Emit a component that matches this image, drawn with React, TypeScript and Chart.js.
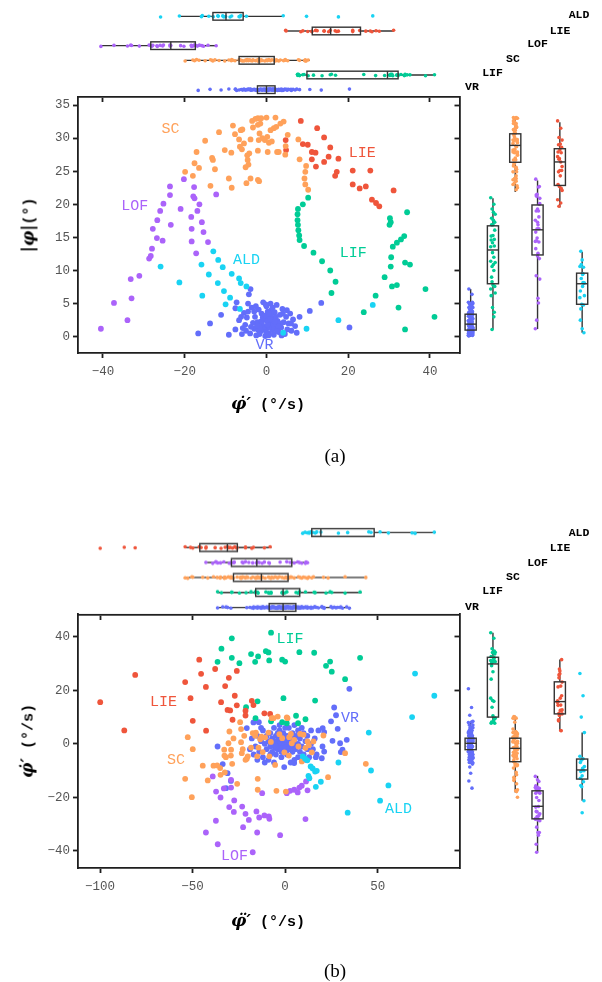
import React, { useEffect, useRef } from 'react';
import { Chart, registerables } from 'chart.js';

Chart.register(...registerables);
Chart.defaults.font.family = "'Liberation Mono', 'DejaVu Sans Mono', monospace";

const GROUPS = ['VR', 'LIF', 'SC', 'LOF', 'LIE', 'ALD'];
const COLORS = ['#636EFA', '#00CC96', '#FFA15A', '#AB63FA', '#EF553B', '#19D3F3'];
const DRAW_ORDER = [5, 2, 4, 3, 1, 0];

// ---------- Panel (a): x = φ̇′ (°/s), y = |φ| (°) ----------
const A_VR = [
  [-16.7, 0.5], [-13.8, 2.0], [-11.1, 3.3], [-9.2, 0.3], [10.6, 3.9], [13.4, 5.1], [20.3, 1.4], [8.1, 3.0],
  [-3.9, 7.2], [-4.3, 6.4], [-4.5, 5.0], [-7.3, 5.2], [-7.6, 4.3], [-6.7, 2.5], [-7.6, 1.1], [-6.0, 0.4],
  [-5.2, 1.8], [-5.5, 3.6], [-4.8, 2.9], [-3.6, 4.4], [-3.0, 1.2], [-2.8, 3.0], [-2.5, 0.2], [-2.2, 2.2],
  [-1.9, 4.1], [-1.5, 0.8], [-1.2, 3.5], [-1.0, 1.6], [-0.8, 5.2], [-0.5, 2.6], [-0.3, 0.1], [0.0, 4.6],
  [0.2, 1.3], [0.4, 3.1], [0.6, 0.5], [0.8, 2.0], [1.0, 5.0], [1.2, 4.0], [1.4, 1.0], [1.6, 2.8],
  [1.8, 0.3], [2.0, 3.7], [2.2, 1.7], [2.5, 4.8], [2.7, 2.4], [3.0, 0.7], [3.3, 3.3], [3.6, 1.4],
  [3.9, 4.2], [4.2, 2.2], [4.5, 0.4], [4.8, 3.0], [5.1, 1.1], [5.4, 2.0], [5.8, 3.5], [6.1, 0.9],
  [6.5, 2.6], [7.0, 1.6], [7.4, 0.6], [-6.2, 3.0], [-5.8, 1.3], [-4.0, 0.5], [-3.3, 2.1], [-2.0, 1.0],
  [-1.3, 2.3], [-0.6, 1.1], [0.1, 2.4], [0.7, 1.5], [1.3, 2.5], [1.9, 1.2], [2.6, 0.9], [3.2, 2.0],
  [-4.5, 3.8], [-3.0, 3.8], [-1.7, 0.4], [0.3, 3.8], [2.3, 3.0], [4.0, 3.5], [5.0, 4.0], [-0.2, 4.9],
  [1.5, 4.4], [-2.6, 4.6], [-1.1, 1.9], [0.5, 0.2], [1.1, 3.3], [2.9, 1.6], [-3.8, 1.5], [-5.0, 0.9],
  [3.7, 0.2], [6.0, 2.0], [-0.9, 2.9], [0.9, 2.7], [-1.6, 1.4], [1.7, 1.9], [-0.4, 3.2], [0.6, 3.5],
  [-2.3, 1.7], [2.1, 2.3], [-0.1, 0.7], [0.3, 1.8],
];
const A_LIF = [
  [10.2, 21.0], [8.9, 20.0], [7.7, 19.3], [7.6, 18.5], [7.6, 17.6], [7.7, 16.9], [7.8, 16.1], [8.0, 15.3],
  [8.1, 14.6], [9.2, 13.7], [11.5, 12.7], [13.6, 11.4], [15.6, 10.0], [16.9, 8.3], [15.9, 6.6],
  [34.4, 18.8], [30.2, 17.9], [30.4, 17.3], [30.1, 16.9], [33.7, 15.2], [32.9, 14.7], [31.9, 14.2],
  [30.9, 13.6], [30.5, 12.0], [30.4, 10.6], [33.9, 11.2], [35.1, 10.9], [28.9, 9.0], [30.7, 7.6],
  [31.9, 7.8], [26.7, 6.2], [23.8, 3.7], [32.3, 4.4], [38.9, 7.2], [41.1, 3.0], [33.9, 1.1],
];
const A_SC = [
  [-19.9, 24.9], [-18.0, 24.3], [-17.6, 26.2], [-17.1, 27.9], [-16.5, 25.5], [-15.0, 29.6], [-13.7, 22.8],
  [-13.3, 27.0], [-13.1, 26.7], [-12.6, 25.3], [-11.6, 30.9], [-10.2, 28.2], [-9.2, 23.9], [-8.6, 27.8],
  [-8.5, 22.5], [-8.2, 31.9], [-7.7, 30.6], [-6.7, 29.8], [-6.3, 31.2], [-5.9, 31.3], [-6.5, 28.7],
  [-6.0, 28.3], [-5.5, 29.2], [-5.1, 25.6], [-4.9, 23.2], [-4.7, 27.4], [-4.6, 26.7], [-4.4, 26.0],
  [-4.2, 27.7], [-3.9, 29.8], [-3.5, 32.6], [-3.3, 31.6], [-3.9, 23.9], [-2.1, 23.7], [-1.8, 23.5],
  [-2.7, 32.9], [-2.1, 33.0], [-2.1, 32.0], [-2.1, 28.1], [-1.9, 29.7], [-1.7, 30.7], [-1.5, 32.2],
  [-1.3, 33.0], [-1.0, 30.0], [-0.4, 29.7], [0.0, 33.1], [0.2, 30.2], [0.6, 29.3], [0.3, 27.9],
  [1.0, 31.2], [1.3, 29.5], [1.8, 31.5], [2.2, 33.1], [2.4, 31.7], [2.6, 27.9], [3.0, 27.9],
  [3.4, 32.2], [4.2, 32.5], [4.6, 27.5], [4.7, 28.8], [5.2, 30.5], [7.8, 29.8], [8.1, 26.8],
  [9.7, 25.8], [9.5, 24.9], [9.3, 23.9], [9.5, 23.0], [10.2, 22.2],
];
const A_LOF = [
  [-40.5, 1.2], [-37.3, 5.1], [-34.0, 2.5], [-33.2, 8.7], [-33.0, 5.8], [-31.1, 9.2], [-28.7, 11.8],
  [-28.3, 12.2], [-28.0, 13.3], [-27.8, 16.3], [-26.8, 14.9], [-26.7, 17.6], [-26.0, 19.0], [-25.4, 14.5],
  [-25.2, 20.1], [-23.4, 16.9], [-23.6, 21.4], [-23.6, 22.7], [-21.0, 19.3], [-20.2, 23.8], [-18.4, 18.1],
  [-18.3, 16.3], [-18.3, 14.4], [-17.7, 22.6], [-17.9, 21.2], [-17.6, 20.9], [-17.2, 12.6], [-16.9, 19.0],
  [-16.4, 20.0], [-15.8, 17.3], [-15.4, 15.8], [-14.3, 14.3], [-12.3, 21.5],
];
const A_LIE = [
  [8.4, 32.6], [12.4, 31.5], [14.1, 30.1], [4.7, 29.7], [8.9, 29.1], [10.1, 29.0], [15.6, 28.6],
  [4.8, 28.2], [11.1, 27.9], [12.0, 27.8], [17.6, 26.9], [15.2, 27.2], [14.1, 26.4], [11.1, 26.8],
  [12.1, 25.7], [16.8, 24.3], [17.2, 24.9], [21.1, 25.1], [25.4, 25.1], [21.1, 23.0], [22.8, 22.4],
  [24.3, 22.7], [25.8, 20.7], [26.8, 20.2], [27.6, 19.7], [31.1, 22.1],
];
const A_ALD = [
  [-25.9, 10.6], [-21.3, 8.2], [-15.9, 10.9], [-15.7, 6.2], [-14.1, 9.4], [-13.0, 12.9], [-11.9, 8.1],
  [-11.8, 11.6], [-10.4, 6.9], [-10.7, 10.5], [-10.0, 4.9], [-8.9, 5.9], [-8.5, 9.5], [-6.7, 8.8],
  [-6.3, 8.1], [-4.9, 7.6], [-6.5, 4.2], [4.1, 0.6], [9.8, 1.2], [17.6, 2.5], [26.0, 4.8],
];
const A_X_TICKS = [-40, -20, 0, 20, 40];
const A_Y_TICKS = [0, 5, 10, 15, 20, 25, 30, 35];
// box stats [low whisker, q1, median, q3, high whisker], GROUPS order
const A_TOP_BOX = [
  [-7.7, -2.2, 0.0, 2.1, 8.0], [7.6, 9.9, 29.6, 32.2, 41.4], [-19.9, -6.7, -1.8, 1.9, 10.6],
  [-40.5, -28.3, -23.4, -17.4, -12.2], [4.8, 11.2, 15.7, 23.0, 31.2], [-21.3, -13.1, -9.9, -5.7, 4.2],
];
const A_RIGHT_BOX = [
  [0.0, 1.0, 1.9, 3.4, 7.2], [1.1, 8.0, 13.1, 16.75, 20.9], [21.85, 26.35, 28.9, 30.65, 33.0],
  [1.15, 12.35, 16.15, 19.9, 23.6], [19.5, 22.85, 26.4, 28.4, 32.4], [0.6, 4.9, 8.0, 9.6, 12.8],
];
const A_LABEL_AT = [[-0.5, -1.3], [21.2, 12.7], [-23.5, 31.4], [-32.2, 19.8], [23.4, 27.7], [-4.9, 11.6]];

// ---------- Panel (b): x = φ̈′ (°/s), y = φ̇′ (°/s) ----------
const B_VR = [
  [34.7, 20.6], [26.5, 13.6], [27.5, 10.7], [24.8, 8.4], [28.4, 5.6], [25.6, 1.1], [33.3, 1.5], [29.7, 0.2],
  [31.0, -2.2], [30.1, -3.1], [20.3, 5.9], [21.1, 4.4], [20.2, -1.0], [21.1, -2.9], [19.8, -5.4], [16.6, -5.0],
  [-36.5, -1.0], [-33.7, -7.6], [-31.1, -11.0], [-29.3, -13.9], [-31.9, -16.6], [-20.7, 5.9], [-17.1, 8.0],
  [-14.2, 8.1], [-0.5, -8.7], [4.9, -7.2],
  [-19, -2], [-18, 2], [-17, -4], [-16, -1], [-15, 3], [-15, -6], [-14, -3], [-13, 1], [-13, 6], [-12, 5],
  [-12, -5], [-11, 0], [-11, -7], [-10, 3], [-10, -2], [-9, -6], [-9, 1], [-8, 4], [-8, -1], [-8, -4],
  [-7, -3], [-7, 2], [-6, 6], [-6, 0], [-6, -7], [-5, -4], [-5, 3], [-4, 1], [-4, -2], [-4, 4], [-3, 5],
  [-3, -1], [-3, 7], [-2, 2], [-2, -5], [-2, -3], [-1, 0], [-1, 4], [-1, -1], [0, -2], [0, 1], [0, 6],
  [1, 3], [1, -4], [1, 0], [2, 0], [2, 6], [2, -2], [3, -1], [3, 2], [3, -7], [4, -3], [4, 4], [4, -1],
  [5, 1], [5, -6], [5, 7], [6, -1], [6, 3], [7, 0], [7, 5], [7, -5], [8, -3], [8, 2], [9, -1], [9, 6],
  [10, 4], [10, -4], [11, 1], [11, -6], [12, -2], [12, 3], [13, -5], [14, 0], [14, 5], [15, -2], [16, 2],
  [17, -4], [18, 5], [-6.5, 1.5], [-5.5, -1.5], [-4.5, 0.5], [-3.5, 2.5], [-2.5, 0.5], [-1.5, 1.5],
  [-0.5, -0.5], [0.5, 2.5], [1.5, 1.5], [2.5, -0.5], [3.5, 0.5], [4.5, 2.0], [-7.5, -0.5], [-2.0, -1.8],
  [0.2, -1.2], [1.8, -1.5], [-4.8, -1.0], [5.5, -2.0],
];
const B_LIF = [
  [-7.6, 41.6], [-28.8, 39.5], [-34.4, 35.6], [-36.5, 30.7], [-28.8, 32.2], [-24.7, 30.2], [-18.4, 33.6],
  [-16.2, 30.7], [-14.6, 32.7], [-10.4, 34.7], [-9.0, 34.2], [-8.6, 31.2], [-1.6, 31.5], [0.0, 30.8],
  [7.7, 34.3], [15.7, 34.1], [22.1, 29.2], [24.3, 30.8], [25.2, 27.0], [32.4, 24.2], [40.5, 32.2],
  [16.2, 16.2], [-0.9, 17.1], [-14.9, 15.9], [-21.1, 13.7], [-16.0, 9.6], [-7.6, 8.4], [-1.6, 8.1],
  [0.9, 7.7], [5.9, 10.5], [7.0, 7.7], [11.0, 9.2],
];
const B_SC = [
  [-52.6, 2.5], [-49.9, -2.0], [-54.0, -13.1], [-50.4, -20.0], [-44.5, -8.2], [-41.8, -13.7], [-38.7, -8.2],
  [-36.7, -8.1], [-35.1, -9.1], [-34.9, -11.6], [-32.9, -2.2], [-32.8, -4.4], [-32.6, -10.7], [-32.0, -5.0],
  [-30.6, 0.2], [-30.1, 4.6], [-29.3, -4.4], [-29.2, -2.2], [-28.6, -7.5], [-27.9, 2.0], [-25.9, -15.0],
  [-24.3, 8.1], [-23.8, 5.5], [-23.8, 0.6], [-23.4, -3.5], [-22.9, -2.0], [-22.1, 3.0], [-21.4, -6.0],
  [-20.7, -5.6], [-20.2, -4.7], [-18.4, -1.4], [-17.5, 4.0], [-16.2, 3.0], [-15.8, 4.2], [-15.1, -4.7],
  [-14.8, -13.1], [-14.8, -17.2], [-14.4, -1.4], [-13.5, 1.7], [-12.8, 2.7], [-12.1, -3.1], [-10.8, 2.4],
  [-9.0, 4.2], [-8.5, -4.7], [-7.7, 0.7], [-7.2, 9.6], [-6.3, 9.6], [-5.4, -7.9], [-4.7, -17.6],
  [-4.0, 10.2], [-3.1, 3.6], [-1.6, 2.1], [-0.4, -3.2], [0.4, -17.9], [0.9, 9.9], [1.3, 9.6], [2.0, -4.4],
  [2.2, 2.5], [3.1, 3.7], [3.6, 0.2], [4.9, 1.5], [7.2, -1.0], [8.1, 3.7], [9.0, -6.6], [9.9, 3.4],
  [11.0, -1.5], [12.1, 0.9], [12.8, -0.5], [14.4, -3.2], [15.3, 0.9], [20.7, 3.1], [23.2, -12.5],
  [32.4, -3.5], [43.6, -7.5],
];
const B_LOF = [
  [-39.1, -12.2], [-37.3, -17.9], [-34.9, -20.1], [-37.4, -28.8], [-42.8, -33.2], [-36.4, -37.6],
  [-33.1, -16.7], [-29.2, -13.5], [-30.2, -23.7], [-27.5, -21.2], [-27.7, -25.5], [-29.2, -16.4],
  [-23.2, -23.5], [-22.7, -31.2], [-21.4, -26.2], [-19.6, -28.5], [-15.5, -25.3], [-15.1, -33.2],
  [-14.0, -27.6], [-12.4, -18.5], [-11.2, -26.8], [-8.8, -27.2], [-8.5, -28.1], [-2.7, -34.2],
  [-17.5, -40.6], [0.9, -18.5], [2.7, -17.6], [4.9, -17.2], [6.8, -18.2], [7.7, -16.4], [9.0, -15.7],
  [11.3, -14.1], [12.1, -17.4], [11.0, -28.2],
];
const B_LIE = [
  [-99.9, 15.6], [-86.9, 5.0], [-81.0, 25.8], [-54.0, 23.1], [-51.1, 17.1], [-49.9, 8.6], [-46.4, 31.5],
  [-45.4, 26.2], [-42.8, 21.3], [-42.7, 4.9], [-37.8, 28.0], [-34.6, 15.6], [-32.4, 21.6], [-30.4, 24.7],
  [-31.1, 12.7], [-29.7, 12.5], [-28.4, 9.0], [-27.2, 18.0], [-26.1, 27.3], [-26.1, 14.4], [-21.4, 12.4],
  [-21.4, 10.6], [-18.0, 16.1], [-17.1, 14.5], [-11.2, 11.4], [-8.1, 11.2],
];
const B_ALD = [
  [9.5, -4.7], [10.8, -5.6], [12.0, -6.2], [13.8, -8.5], [14.9, -9.2], [16.2, -10.4], [17.1, -10.1],
  [12.6, -12.0], [13.1, -12.9], [19.3, -14.2], [16.6, -16.1], [70.2, 26.3], [80.6, 18.0], [68.6, 10.0],
  [45.2, 4.2], [46.4, -10.0], [55.8, -15.6], [51.3, -21.3], [33.8, -25.8], [28.8, -7.0],
];
const B_X_TICKS = [-100, -50, 0, 50];
const B_Y_TICKS = [-40, -20, 0, 20, 40];
const B_TOP_BOX = [
  [-36.6, -8.6, -1.1, 5.8, 35.5], [-36.6, -15.9, -1.1, 7.9, 41.3], [-54.1, -27.9, -12.8, 1.6, 44.0],
  [-42.9, -29.0, -15.3, 3.6, 12.4], [-54.1, -46.1, -31.2, -25.8, -7.4], [9.5, 14.4, 19.3, 48.1, 81.4],
];
const B_RIGHT_BOX = [
  [-7.5, -2.2, 0.2, 2.1, 8.3], [7.7, 10.0, 29.9, 32.4, 41.6], [-18.2, -6.7, -1.7, 2.1, 10.5],
  [-40.5, -28.1, -23.4, -17.6, -12.0], [5.0, 11.2, 15.8, 23.2, 31.6], [-21.3, -13.2, -9.8, -5.7, 4.2],
];
const B_LABEL_AT = [[35.1, 9.6], [2.7, 39.2], [-58.9, -6.0], [-27.4, -42.2], [-65.7, 15.8], [61.2, -24.3]];

// ---------- styling / layout ----------
const AXIS_COLOR = '#1e1e1e';
const TICK_LABEL_COLOR = '#555';
const BOX_COLOR = '#333';
const HEADER_X = [472, 492.5, 513, 537.5, 560, 579];

const fmt = (v: number) => (v < 0 ? '\u2212' + Math.abs(v) : String(v));
const jit = (k: number) => (((k * 7) % 11) - 5) / 5;

function axisBase(tickValues: number[], showLabels: boolean): any {
  return {
    type: 'linear',
    afterBuildTicks: (ax: any) => {
      ax.ticks = tickValues.map((v) => ({ value: v }));
    },
    grid: { display: true, drawOnChartArea: false, drawTicks: true, tickLength: 5, tickWidth: 1.8, tickColor: AXIS_COLOR },
    border: { display: true, color: AXIS_COLOR, width: 1.8 },
    ticks: {
      display: showLabels,
      color: TICK_LABEL_COLOR,
      font: { size: 12.5 },
      padding: 4,
      autoSkip: false,
      maxRotation: 0,
      callback: (v: any) => fmt(Number(v)),
    },
  };
}

function labelPlugin(at: number[][]) {
  return {
    id: 'groupLabels',
    afterDatasetsDraw(chart: any) {
      const { ctx, scales } = chart;
      ctx.save();
      ctx.font = "15px 'Liberation Mono', monospace";
      ctx.textAlign = 'center';
      ctx.textBaseline = 'middle';
      GROUPS.forEach((g, gi) => {
        ctx.fillStyle = COLORS[gi];
        ctx.fillText(g, scales.x.getPixelForValue(at[gi][0]), scales.y.getPixelForValue(at[gi][1]));
      });
      ctx.restore();
    },
  };
}

function boxPlugin(orient: 'h' | 'v', stats: number[][]) {
  const seg = (ctx: any, x1: number, y1: number, x2: number, y2: number) => {
    ctx.beginPath();
    ctx.moveTo(x1, y1);
    ctx.lineTo(x2, y2);
    ctx.stroke();
  };
  return {
    id: 'boxes',
    beforeDatasetsDraw(chart: any) {
      const { ctx, scales: { x, y } } = chart;
      ctx.save();
      ctx.strokeStyle = BOX_COLOR;
      ctx.lineWidth = 1.4;
      stats.forEach((s, gi) => {
        const [lo, q1, , q3, hi] = s;
        if (orient === 'h') {
          const cy = y.getPixelForValue(gi);
          seg(ctx, x.getPixelForValue(lo), cy, x.getPixelForValue(q1), cy);
          seg(ctx, x.getPixelForValue(q3), cy, x.getPixelForValue(hi), cy);
        } else {
          const cx = x.getPixelForValue(gi);
          seg(ctx, cx, y.getPixelForValue(lo), cx, y.getPixelForValue(q1));
          seg(ctx, cx, y.getPixelForValue(q3), cx, y.getPixelForValue(hi));
        }
      });
      ctx.restore();
    },
    afterDatasetsDraw(chart: any) {
      const { ctx, scales: { x, y } } = chart;
      ctx.save();
      ctx.strokeStyle = BOX_COLOR;
      ctx.lineWidth = 1.4;
      stats.forEach((s, gi) => {
        const [, q1, med, q3] = s;
        if (orient === 'h') {
          const cy = y.getPixelForValue(gi);
          const hw = Math.abs(y.getPixelForValue(gi + 0.26) - cy);
          const a = x.getPixelForValue(q1), b = x.getPixelForValue(q3), m = x.getPixelForValue(med);
          ctx.strokeRect(a, cy - hw, b - a, 2 * hw);
          seg(ctx, m, cy - hw, m, cy + hw);
        } else {
          const cx = x.getPixelForValue(gi);
          const hw = Math.abs(x.getPixelForValue(gi + 0.25) - cx);
          const a = y.getPixelForValue(q3), b = y.getPixelForValue(q1), m = y.getPixelForValue(med);
          ctx.strokeRect(cx - hw, a, 2 * hw, b - a);
          seg(ctx, cx - hw, m, cx + hw, m);
        }
      });
      ctx.restore();
    },
  };
}

interface PanelSpec {
  series: number[][][];
  xMin: number; xMax: number; yMin: number; yMax: number;
  xTicks: number[]; yTicks: number[];
  xSym: string; ySym: string; xUnit: string; yUnit: string;
  topBox: number[][]; rightBox: number[][];
  labelAt: number[][];
  margTop: number; mainTop: number; mainBottom: number;
  headerY: number[];
  caption: string; captionY: number;
  xTitleY: number; yTitleX: number;
}

const MAIN_CANVAS_H = 322;

function mainConfig(p: PanelSpec): any {
  const canvasTop = p.mainTop - 7;
  const xAxisH = MAIN_CANVAS_H - (p.mainBottom - canvasTop);
  const x = axisBase(p.xTicks, true);
  x.position = 'bottom';
  x.min = p.xMin; x.max = p.xMax;
  x.ticks.padding = 6;
  x.afterFit = (s: any) => { s.height = xAxisH; s.paddingLeft = 0; s.paddingRight = 0; };
  const y = axisBase(p.yTicks, true);
  y.position = 'left';
  y.min = p.yMin; y.max = p.yMax;
  y.ticks.padding = 3;
  y.afterFit = (s: any) => { s.width = 78; s.paddingTop = 0; s.paddingBottom = 0; };
  return {
    type: 'scatter',
    data: {
      datasets: DRAW_ORDER.map((gi) => ({
        label: GROUPS[gi],
        data: p.series[gi].map(([vx, vy]) => ({ x: vx, y: vy })),
        backgroundColor: COLORS[gi],
        borderColor: COLORS[gi],
        pointRadius: 2.9,
        pointBorderWidth: 0,
      })),
    },
    options: {
      animation: false,
      responsive: false,
      events: [],
      layout: { padding: { left: 0, top: 7, right: 4, bottom: 0 } },
      plugins: { legend: { display: false }, tooltip: { enabled: false } },
      scales: { x, y },
    },
    plugins: [labelPlugin(p.labelAt)],
  };
}

function topConfig(p: PanelSpec, canvasTop: number, canvasH: number): any {
  const areaBottom = p.mainTop + 0.5 - canvasTop;
  const x = axisBase(p.xTicks, false);
  x.position = 'bottom';
  x.min = p.xMin; x.max = p.xMax;
  x.afterFit = (s: any) => { s.height = canvasH - areaBottom; s.paddingLeft = 0; s.paddingRight = 0; };
  return {
    type: 'scatter',
    data: {
      datasets: DRAW_ORDER.map((gi) => ({
        label: GROUPS[gi],
        data: p.series[gi].map((pt, k) => ({ x: pt[0], y: gi + jit(k) * 0.05 })),
        backgroundColor: COLORS[gi],
        pointRadius: 1.8,
        pointBorderWidth: 0,
      })),
    },
    options: {
      animation: false,
      responsive: false,
      events: [],
      layout: { padding: { left: 78, top: p.margTop - canvasTop, right: 4, bottom: 0 } },
      plugins: { legend: { display: false }, tooltip: { enabled: false } },
      scales: { x, y: { type: 'linear', display: false, min: -0.5, max: 5.5 } },
    },
    plugins: [boxPlugin('h', p.topBox)],
  };
}

function rightConfig(p: PanelSpec): any {
  const y = axisBase(p.yTicks, false);
  y.position = 'left';
  y.min = p.yMin; y.max = p.yMax;
  y.afterFit = (s: any) => { s.width = 19.5; s.paddingTop = 0; s.paddingBottom = 0; };
  return {
    type: 'scatter',
    data: {
      datasets: DRAW_ORDER.map((gi) => ({
        label: GROUPS[gi],
        data: p.series[gi].map((pt, k) => ({ x: gi + jit(k) * 0.1, y: pt[1] })),
        backgroundColor: COLORS[gi],
        pointRadius: 1.8,
        pointBorderWidth: 0,
      })),
    },
    options: {
      animation: false,
      responsive: false,
      events: [],
      layout: { padding: { left: 0, top: 7, right: 8.7, bottom: 7 } },
      plugins: { legend: { display: false }, tooltip: { enabled: false } },
      scales: { x: { type: 'linear', display: false, min: -0.5, max: 5.5 }, y },
    },
    plugins: [boxPlugin('v', p.rightBox)],
  };
}

function ChartCanvas(props: { left: number; top: number; width: number; height: number; make: () => any }) {
  const ref = useRef<HTMLCanvasElement>(null);
  useEffect(() => {
    const chart = new Chart(ref.current as HTMLCanvasElement, props.make());
    return () => chart.destroy();
  }, []);
  return (
    <canvas
      ref={ref}
      width={props.width}
      height={props.height}
      style={{ position: 'absolute', left: props.left, top: props.top, width: props.width, height: props.height }}
    />
  );
}

function AxisTitle(props: { sym: string; unit: string; x: number; y: number; rotate: boolean }) {
  return (
    <div
      style={{
        position: 'absolute',
        left: props.x,
        top: props.y,
        transform: props.rotate ? 'translate(-50%, -50%) rotate(-90deg)' : 'translate(-50%, -50%)',
        whiteSpace: 'nowrap',
        lineHeight: 1,
        color: '#000',
      }}
    >
      <span style={{ font: "bold italic 17px 'DejaVu Serif', serif" }}>{props.sym}</span>
      <span style={{ font: "bold 15px 'Liberation Mono', monospace" }}>{props.unit}</span>
    </div>
  );
}

function Panel({ p }: { p: PanelSpec }) {
  const mainTopC = p.mainTop - 7;
  const topC = p.margTop - 8;
  const topH = p.mainTop + 0.5 - topC + 10;
  const rightH = p.mainBottom - p.mainTop + 14;
  return (
    <>
      <ChartCanvas left={0} top={mainTopC} width={462} height={MAIN_CANVAS_H} make={() => mainConfig(p)} />
      <ChartCanvas left={0} top={topC} width={462} height={topH} make={() => topConfig(p, topC, topH)} />
      <ChartCanvas left={440} top={mainTopC} width={162} height={rightH} make={() => rightConfig(p)} />
      <AxisTitle sym={p.xSym} unit={p.xUnit} x={268} y={p.xTitleY} rotate={false} />
      <AxisTitle sym={p.ySym} unit={p.yUnit} x={p.yTitleX} y={(p.mainTop + p.mainBottom) / 2} rotate={true} />
      {GROUPS.map((g, gi) => (
        <div
          key={g}
          style={{
            position: 'absolute',
            left: HEADER_X[gi],
            top: p.headerY[gi],
            transform: 'translate(-50%, -50%)',
            font: "bold 11.5px 'Liberation Mono', monospace",
            lineHeight: 1,
            whiteSpace: 'nowrap',
            color: '#000',
          }}
        >
          {g}
        </div>
      ))}
      <div
        style={{
          position: 'absolute',
          left: 335,
          top: p.captionY,
          transform: 'translate(-50%, -50%)',
          font: "19px 'Liberation Serif', 'DejaVu Serif', serif",
          lineHeight: 1,
          color: '#000',
        }}
      >
        {p.caption}
      </div>
    </>
  );
}

const PANEL_A: PanelSpec = {
  series: [A_VR, A_LIF, A_SC, A_LOF, A_LIE, A_ALD],
  xMin: -46.1, xMax: 46.85, yMin: -2.46, yMax: 36.21,
  xTicks: A_X_TICKS, yTicks: A_Y_TICKS,
  xSym: '\u03C6\u0307\u2032', xUnit: ' (\u00B0/s)', ySym: '|\u03C6|', yUnit: '(\u00B0)',
  topBox: A_TOP_BOX, rightBox: A_RIGHT_BOX, labelAt: A_LABEL_AT,
  margTop: 8.6, mainTop: 97, mainBottom: 353,
  headerY: [87, 72.8, 59, 44, 31, 15],
  caption: '(a)', captionY: 455,
  xTitleY: 403, yTitleX: 28,
};

const PANEL_B: PanelSpec = {
  series: [B_VR, B_LIF, B_SC, B_LOF, B_LIE, B_ALD],
  xMin: -111.9, xMax: 93.4, yMin: -46.5, yMax: 48.6,
  xTicks: B_X_TICKS, yTicks: B_Y_TICKS,
  xSym: '\u03C6\u0308\u2032', xUnit: ' (\u00B0/s)', ySym: '\u03C6\u0307\u2032', yUnit: ' (\u00B0/s)',
  topBox: B_TOP_BOX, rightBox: B_RIGHT_BOX, labelAt: B_LABEL_AT,
  margTop: 525, mainTop: 614, mainBottom: 868,
  headerY: [607, 591.3, 577, 562.5, 547.5, 532.7],
  caption: '(b)', captionY: 970,
  xTitleY: 920, yTitleX: 27,
};

export default function App() {
  return (
    <div style={{ position: 'absolute', left: 0, top: 0, width: 602, height: 982, background: '#fff', overflow: 'hidden' }}>
      <Panel p={PANEL_A} />
      <Panel p={PANEL_B} />
    </div>
  );
}
